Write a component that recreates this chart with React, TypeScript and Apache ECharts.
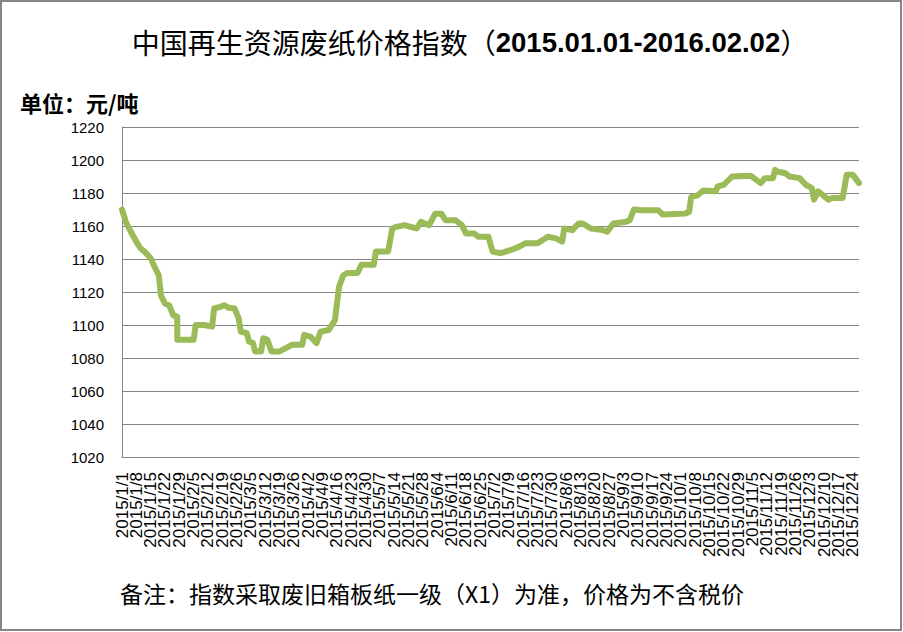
import React, { useEffect, useRef } from "react";
import * as echarts from "echarts";

// Weekly tick labels on the x axis (one every 7 days)
const weekLabels = [
  "2015/1/1", "2015/1/8", "2015/1/15", "2015/1/22", "2015/1/29",
  "2015/2/5", "2015/2/12", "2015/2/19", "2015/2/26",
  "2015/3/5", "2015/3/12", "2015/3/19", "2015/3/26",
  "2015/4/2", "2015/4/9", "2015/4/16", "2015/4/23", "2015/4/30",
  "2015/5/7", "2015/5/14", "2015/5/21", "2015/5/28",
  "2015/6/4", "2015/6/11", "2015/6/18", "2015/6/25",
  "2015/7/2", "2015/7/9", "2015/7/16", "2015/7/23", "2015/7/30",
  "2015/8/6", "2015/8/13", "2015/8/20", "2015/8/27",
  "2015/9/3", "2015/9/10", "2015/9/17", "2015/9/24",
  "2015/10/1", "2015/10/8", "2015/10/15", "2015/10/22", "2015/10/29",
  "2015/11/5", "2015/11/12", "2015/11/19", "2015/11/26",
  "2015/12/3", "2015/12/10", "2015/12/17", "2015/12/24",
];

// Number of daily slots on the x axis (2015/1/1 .. 2015/12/27)
const dayCount = 361;

// Day offsets (from 2015/1/1) of the line's breakpoints
const pointDays = [
  0, 2, 5, 7, 9, 11, 14, 16, 18, 19, 21, 23, 25, 27, 27,
  35, 36, 40, 44, 45, 48, 50, 52, 55, 57, 58, 61, 62,
  64, 65, 68, 69, 71, 73, 77, 80, 83, 88, 89, 92, 95, 97,
  101, 104, 106, 108, 110, 115, 117, 123, 124, 130, 132,
  134, 138, 141, 144, 146, 150, 153, 156, 158, 163, 166,
  168, 172, 174, 179, 181, 185, 190, 194, 197, 203, 208,
  212, 215, 216, 220, 223, 225, 229, 235, 237, 240, 246,
  248, 250, 254, 262, 264, 275, 277, 278, 281, 284, 290,
  291, 294, 298, 307, 312, 314, 318, 319, 320, 324, 326,
  331, 334, 337, 338, 340, 342, 345, 347, 352, 354, 357, 360,
];

// Price index values (元/吨) at those breakpoints
const pointValues = [
  1170, 1162, 1155, 1150.5, 1146.5, 1144.5, 1140.5, 1135, 1130, 1118, 1113, 1112, 1106, 1105, 1091,
  1091, 1100, 1100, 1099, 1110, 1111, 1112, 1110.5, 1110, 1104, 1096, 1095, 1090,
  1089, 1084, 1084, 1092, 1091, 1084, 1084, 1086, 1088, 1088, 1094, 1093, 1089, 1096,
  1097, 1103, 1123, 1130, 1131.5, 1131.5, 1136.5, 1136.5, 1144.5, 1144.5, 1158.5,
  1159.5, 1160.5, 1159.5, 1158.5, 1162.5, 1160.5, 1167.5, 1167.5, 1163.5, 1163.5, 1160.5,
  1155.5, 1155.5, 1153.5, 1153.5, 1144.5, 1143.5, 1145.5, 1147.5, 1149.5, 1149.5, 1153.5,
  1152.5, 1150.5, 1158.5, 1157.5, 1161.5, 1161.5, 1158.5, 1157.5, 1156.5, 1161.5, 1162.5,
  1163.5, 1170, 1169.5, 1169.5, 1167, 1167.5, 1168.5, 1177.5, 1178.5, 1181.5, 1181,
  1184, 1185, 1190, 1190.5, 1186, 1189, 1189, 1194, 1193, 1192, 1190,
  1189, 1185, 1183, 1176, 1181, 1179, 1176, 1177, 1177, 1191, 1191, 1186,
];

const yTicks = { min: 1020, max: 1220, step: 20 };

export default function App() {
  const ref = useRef<HTMLDivElement>(null);

  useEffect(() => {
    if (!ref.current) return;
    const chart = echarts.init(ref.current, null, { renderer: "svg" });
    const gray = "#868686";
    const numFont = "'Liberation Sans', Arial, sans-serif";
    const cjkFont = "'Noto Sans CJK SC', sans-serif";

    const dayCategories = Array.from({ length: dayCount }, (_, i) => String(i));

    chart.setOption({
      animation: false,
      backgroundColor: "#ffffff",
      grid: { left: 122, top: 127, width: 737, height: 330, containLabel: false },
      xAxis: {
        type: "category",
        data: dayCategories,
        boundaryGap: false,
        splitLine: { show: false },
        axisTick: { show: false },
        axisLine: { show: true, lineStyle: { color: gray, width: 1 } },
        axisLabel: {
          interval: 0,
          rotate: 90,
          margin: 15,
          fontSize: 17,
          fontFamily: numFont,
          color: "#000",
          formatter: (_v: string, idx: number) =>
            idx % 7 === 0 ? weekLabels[idx / 7] || "" : "",
        },
      },
      yAxis: {
        type: "value",
        min: yTicks.min,
        max: yTicks.max,
        interval: yTicks.step,
        splitLine: { show: true, lineStyle: { color: gray, width: 1 } },
        axisTick: { show: false },
        axisLine: { show: true, lineStyle: { color: gray, width: 1 } },
        axisLabel: {
          margin: 18,
          fontSize: 15,
          fontFamily: numFont,
          color: "#000",
          formatter: (v: number) => String(v),
        },
      },
      series: [
        {
          type: "line",
          data: pointDays.map((d, i) => [d, pointValues[i]]),
          showSymbol: false,
          symbol: "none",
          smooth: false,
          clip: false,
          lineStyle: { color: "#9BBB59", width: 6, cap: "round", join: "round" },
        },
      ],
      graphic: [
        {
          type: "rect",
          shape: { x: 1, y: 1, width: 900, height: 629 },
          style: { fill: "none", stroke: gray, lineWidth: 2 },
          silent: true,
        },
        {
          type: "text",
          x: 470,
          y: 42,
          style: {
            text: "{a|中国再生资源废纸价格指数（}{b|2015.01.01-2016.02.02}{a|）}",
            align: "center",
            verticalAlign: "middle",
            rich: {
              a: { fontSize: 28, fontFamily: cjkFont, fill: "#000" },
              b: { fontSize: 27.5, fontFamily: numFont, fontWeight: "bold", fill: "#000" },
            },
          },
        },
        {
          type: "text",
          x: 20,
          y: 102,
          style: {
            text: "单位：元/吨",
            fontSize: 22,
            fontWeight: "bold",
            fontFamily: cjkFont,
            fill: "#000",
            align: "left",
            verticalAlign: "middle",
          },
        },
        {
          type: "text",
          x: 120,
          y: 593,
          style: {
            text: "备注：指数采取废旧箱板纸一级（X1）为准，价格为不含税价",
            fontSize: 23,
            fontFamily: cjkFont,
            fill: "#000",
            align: "left",
            verticalAlign: "middle",
          },
        },
      ],
    });

    return () => chart.dispose();
  }, []);

  return (
    <div
      ref={ref}
      style={{ position: "absolute", left: 0, top: 0, width: 903, height: 632 }}
    />
  );
}
